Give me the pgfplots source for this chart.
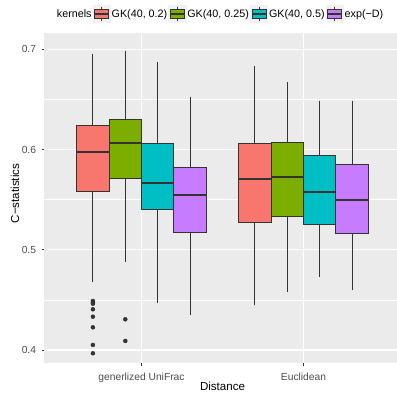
\documentclass[border=0pt]{standalone}
\usepackage{fontspec}
\setmainfont{Liberation Sans}
\usepackage{pgfplots}
\pgfplotsset{compat=1.18}
\usepgfplotslibrary{statistics}
\definecolor{ggred}{HTML}{F8766D}
\definecolor{gggreen}{HTML}{7CAE00}
\definecolor{ggcyan}{HTML}{00BFC4}
\definecolor{ggpurple}{HTML}{C77CFF}
\definecolor{ggbg}{HTML}{EBEBEB}
\definecolor{gg20}{HTML}{333333}
\definecolor{gg30}{HTML}{4D4D4D}
\definecolor{keybg}{HTML}{F2F2F2}
\pgfplotsset{
  ggbox/.style={forget plot, solid, fill=#1, draw=gg20, line width=0.85bp},
  boxkey/.style={legend image code/.code={
    \fill[keybg] (0bp,-8.64bp) rectangle (17.28bp,8.64bp);
    \draw[gg20, line width=0.7bp] (8.64bp,-6.9bp) -- (8.64bp,6.9bp);
    \draw[gg20, line width=0.7bp, fill=#1] (1.73bp,-4.32bp) rectangle (15.55bp,4.32bp);
    \draw[gg20, line width=1.1bp] (1.73bp,0bp) -- (15.55bp,0bp);
  }},
}
\begin{document}
\begin{tikzpicture}
\useasboundingbox (0,0) rectangle (397bp,393bp);
\begin{axis}[
  at={(44.3bp,30bp)}, anchor=south west,
  scale only axis, width=356.4bp, height=330bp,
  xmin=0.4, xmax=2.6, ymin=0.387, ymax=0.7163,
  axis background/.style={fill=ggbg},
  axis line style={draw=none},
  tick align=outside, tick pos=left,
  major tick length=2.75bp, minor tick length=0bp,
  tick style={draw=gg20, line width=0.8bp},
  xtick={1,2}, xticklabels={generlized UniFrac, Euclidean},
  ytick={0.4,0.5,0.6,0.7}, yticklabels={0.4,0.5,0.6,0.7},
  minor ytick={0.45,0.55,0.65},
  xmajorgrids, ymajorgrids, yminorgrids,
  major grid style={white, line width=1.07bp},
  minor grid style={white, line width=0.53bp},
  ticklabel style={font=\fontsize{10.3}{12}\selectfont, text=gg30},
  every x tick label/.append style={anchor=base, inner sep=0pt, yshift=-14.7bp},
  every y tick label/.append style={anchor=east, inner sep=0pt, xshift=-5.3bp},
  xlabel={Distance}, ylabel={C−statistics},
  every axis x label/.style={at={(axis description cs:0.5,-0.0833)}, anchor=base, inner sep=0pt, font=\fontsize{11.6}{14}\selectfont},
  every axis y label/.style={at={(axis description cs:-0.0822,0.5136)}, anchor=center, rotate=90, inner sep=0pt, font=\fontsize{11.6}{14}\selectfont},
  boxplot/draw direction=y,
  boxplot/box extend=0.2,
  boxplot/whisker extend=0,
  boxplot/every median/.style={line width=1.6bp},
  boxplot/every whisker/.style={line width=0.85bp},
  legend columns=-1,
  legend style={at={(0.4916,1.0576)}, anchor=center, draw=none, fill=none,
    font=\fontsize{10.8}{13}\selectfont, column sep=1.2bp,
    nodes={inner sep=0pt}},
]
\addlegendimage{empty legend}\addlegendentry{kernels}
\addlegendimage{boxkey=ggred}\addlegendentry{GK(40, 0.2)}
\addlegendimage{boxkey=gggreen}\addlegendentry{GK(40, 0.25)}
\addlegendimage{boxkey=ggcyan}\addlegendentry{GK(40, 0.5)}
\addlegendimage{boxkey=ggpurple}\addlegendentry{exp(−D)}
% generlized UniFrac
\addplot[ggbox=ggred, boxplot prepared={draw position=0.7, lower whisker=0.4681, lower quartile=0.5585, median=0.5974, upper quartile=0.624, upper whisker=0.6958}] coordinates {};
\addplot[ggbox=gggreen, boxplot prepared={draw position=0.9, lower whisker=0.4874, lower quartile=0.5712, median=0.6067, upper quartile=0.630, upper whisker=0.6984}] coordinates {};
\addplot[ggbox=ggcyan, boxplot prepared={draw position=1.1, lower whisker=0.4472, lower quartile=0.5406, median=0.5668, upper quartile=0.6057, upper whisker=0.6871}] coordinates {};
\addplot[ggbox=ggpurple, boxplot prepared={draw position=1.3, lower whisker=0.4352, lower quartile=0.5173, median=0.5545, upper quartile=0.5818, upper whisker=0.6529}] coordinates {};
% Euclidean
\addplot[ggbox=ggred, boxplot prepared={draw position=1.7, lower whisker=0.4446, lower quartile=0.5273, median=0.5708, upper quartile=0.6061, upper whisker=0.6838}] coordinates {};
\addplot[ggbox=gggreen, boxplot prepared={draw position=1.9, lower whisker=0.4578, lower quartile=0.5333, median=0.5725, upper quartile=0.6067, upper whisker=0.6679}] coordinates {};
\addplot[ggbox=ggcyan, boxplot prepared={draw position=2.1, lower whisker=0.4725, lower quartile=0.5253, median=0.5575, upper quartile=0.5937, upper whisker=0.648}] coordinates {};
\addplot[ggbox=ggpurple, boxplot prepared={draw position=2.3, lower whisker=0.4595, lower quartile=0.5163, median=0.5496, upper quartile=0.5847, upper whisker=0.6483}] coordinates {};
% outliers
\addplot[forget plot, only marks, mark=*, mark size=2bp, gg20, mark options={fill=gg20, draw=none}] coordinates {
  (0.7,0.4489) (0.7,0.4476) (0.7,0.4462) (0.7,0.4406) (0.7,0.4332) (0.7,0.4226) (0.7,0.4050) (0.7,0.3967)
  (0.9,0.4306) (0.9,0.4090)
};
\end{axis}
\end{tikzpicture}
\end{document}
